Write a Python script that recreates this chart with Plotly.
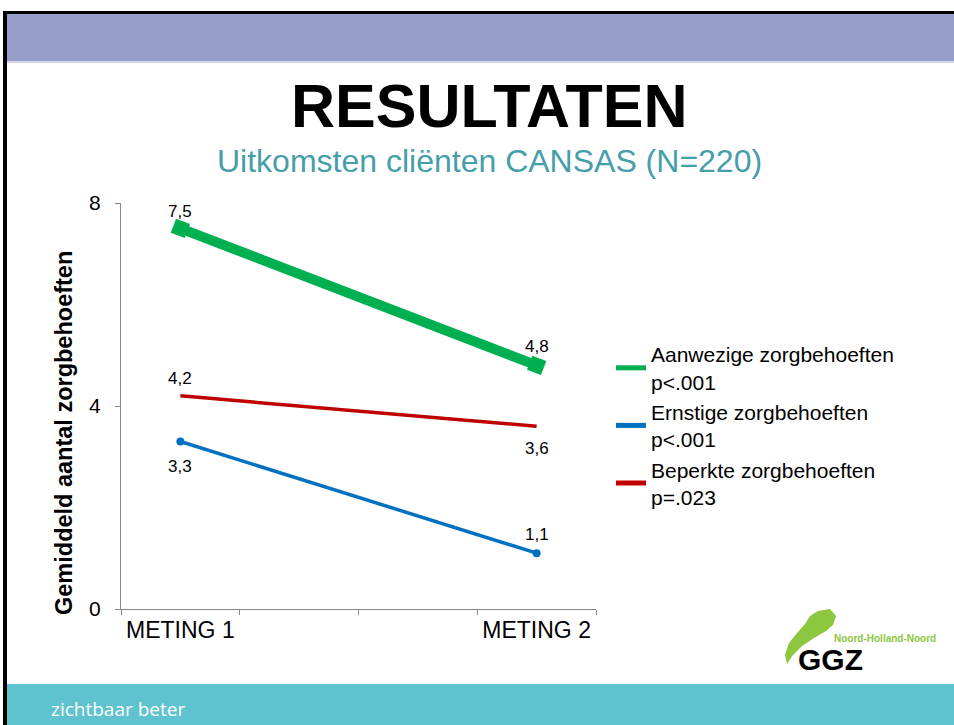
import plotly.graph_objects as go

# chart data
slots = ["METING 1", " ", "  ", "METING 2"]   # excel chart has 4 category slots, only 2 labelled
metingen = ["METING 1", "METING 2"]
aanwezig = [7.5, 4.8]
ernstig = [3.3, 1.1]
beperkt = [4.2, 3.6]
legend_names = ["Aanwezige zorgbehoeften<br>p<.001",
                "Ernstige zorgbehoeften<br>p<.001",
                "Beperkte zorgbehoeften<br>p=.023"]
y_ticks = [0, 4, 8]

GREEN = "#00B050"
BLUE = "#0070C0"
RED = "#C00000"
FONT = "Arial, Liberation Sans, sans-serif"

W, H = 954, 725
L, R, T, B = 121, 596, 203, 609


def px(x):
    return (x - L) / (R - L)


def py(y):
    return (B - y) / (B - T)


fig = go.Figure()

fig.add_trace(go.Scatter(x=metingen, y=aanwezig, mode="lines+markers", showlegend=False,
                         line=dict(color=GREEN, width=10),
                         marker=dict(symbol="square", size=15, angle=21, color=GREEN)))
fig.add_trace(go.Scatter(x=metingen, y=ernstig, mode="lines+markers", showlegend=False,
                         line=dict(color=BLUE, width=3.5),
                         marker=dict(symbol="circle", size=8, color=BLUE)))
fig.add_trace(go.Scatter(x=metingen, y=beperkt, mode="lines", showlegend=False,
                         line=dict(color=RED, width=3.5)))

# legend entries (no data, just the sample line)
for name, col in zip(legend_names, [GREEN, BLUE, RED]):
    fig.add_trace(go.Scatter(x=[None], y=[None], mode="lines", name=name,
                             line=dict(color=col, width=5)))

# data labels, comma decimals like the excel original
def lbl(v):
    return f"{v:.1f}".replace(".", ",")

for series, shifts in [(aanwezig, [17, 19]), (ernstig, [-25, 19]), (beperkt, [17, -22])]:
    for m, v, s in zip(metingen, series, shifts):
        fig.add_annotation(x=m, y=v, text=lbl(v), showarrow=False, yshift=s,
                           font=dict(size=17, color="black", family=FONT))

# slide decoration
shapes = [
    dict(type="rect", x0=px(4), x1=px(960), y0=py(14), y1=py(61), fillcolor="#979FC9", line_width=0),
    dict(type="rect", x0=px(4), x1=px(960), y0=py(61), y1=py(63), fillcolor="#D3D6EC", line_width=0),
    dict(type="rect", x0=px(4), x1=px(960), y0=py(11), y1=py(14), fillcolor="black", line_width=0),
    dict(type="rect", x0=px(4), x1=px(960), y0=py(684), y1=py(730), fillcolor="#5EC3CF", line_width=0),
    dict(type="rect", x0=px(3), x1=px(7), y0=py(11), y1=py(730), fillcolor="black", line_width=0),
]

# GGZ logo swoosh
logo = [(818, 611), (830, 609), (836, 616), (833, 625), (826, 631), (814, 638),
        (802, 646), (793, 655), (787, 664), (785, 655), (789, 643), (797, 633),
        (805, 624), (810, 616)]
path = "M " + " L ".join(f"{px(a)},{py(b)}" for a, b in logo) + " Z"
shapes.append(dict(type="path", path=path, xref="paper", yref="paper",
                   fillcolor="#8DC63F", line_width=0))
for s in shapes:
    s.setdefault("xref", "paper")
    s.setdefault("yref", "paper")
    s["layer"] = "below"

texts = [
    dict(x=489, y=106, text="<b>RESULTATEN</b>", size=61, color="black", family=FONT),
    dict(x=489, y=161, text="Uitkomsten cliënten CANSAS (N=220)", size=32, color="#469EA9", family=FONT),
    dict(x=64, y=433, text="<b>Gemiddeld aantal zorgbehoeften</b>", size=23.5, color="black", family=FONT, angle=-90),
    dict(x=118, y=709, text="zichtbaar beter", size=19, color="white", family="Open Sans, sans-serif"),
    dict(x=830, y=659, text="<b>GGZ</b>", size=30, color="black", family=FONT),
    dict(x=885, y=638, text="<b>Noord-Holland-Noord</b>", size=10, color="#8DC63F", family=FONT),
]
for t in texts:
    fig.add_annotation(x=px(t["x"]), y=py(t["y"]), xref="paper", yref="paper",
                       text=t["text"], showarrow=False, textangle=t.get("angle", 0),
                       xanchor="center", yanchor="middle",
                       font=dict(size=t["size"], color=t["color"], family=t["family"]))

fig.update_layout(
    width=W, height=H,
    margin=dict(l=L, r=W - R, t=T, b=H - B, pad=0),
    paper_bgcolor="white", plot_bgcolor="white",
    font=dict(family=FONT, color="black"),
    shapes=shapes,
    legend=dict(x=px(611), y=py(334), xanchor="left", yanchor="top",
                font=dict(size=21, color="black", family=FONT),
                itemwidth=30, bgcolor="rgba(0,0,0,0)"),
)
fig.update_xaxes(type="category", categoryorder="array", categoryarray=slots,
                 range=[-0.5, 3.5], tickson="boundaries", ticks="outside", ticklen=5,
                 tickcolor="#868686", showline=True, linecolor="#868686", linewidth=1,
                 showgrid=False, zeroline=False, tickfont=dict(size=23, color="black"))
fig.update_yaxes(range=[0, 8], tickvals=y_ticks, ticks="outside", ticklen=5,
                 tickcolor="#868686", showline=True, linecolor="#868686", linewidth=1,
                 showgrid=False, zeroline=False, ticklabelstandoff=10,
                 tickfont=dict(size=21, color="black"))

# page has a default body margin; drop it so the figure sits at 0,0
fig.write_html("out.html", config={"displayModeBar": False},
               post_script="document.body.style.margin='0';")
